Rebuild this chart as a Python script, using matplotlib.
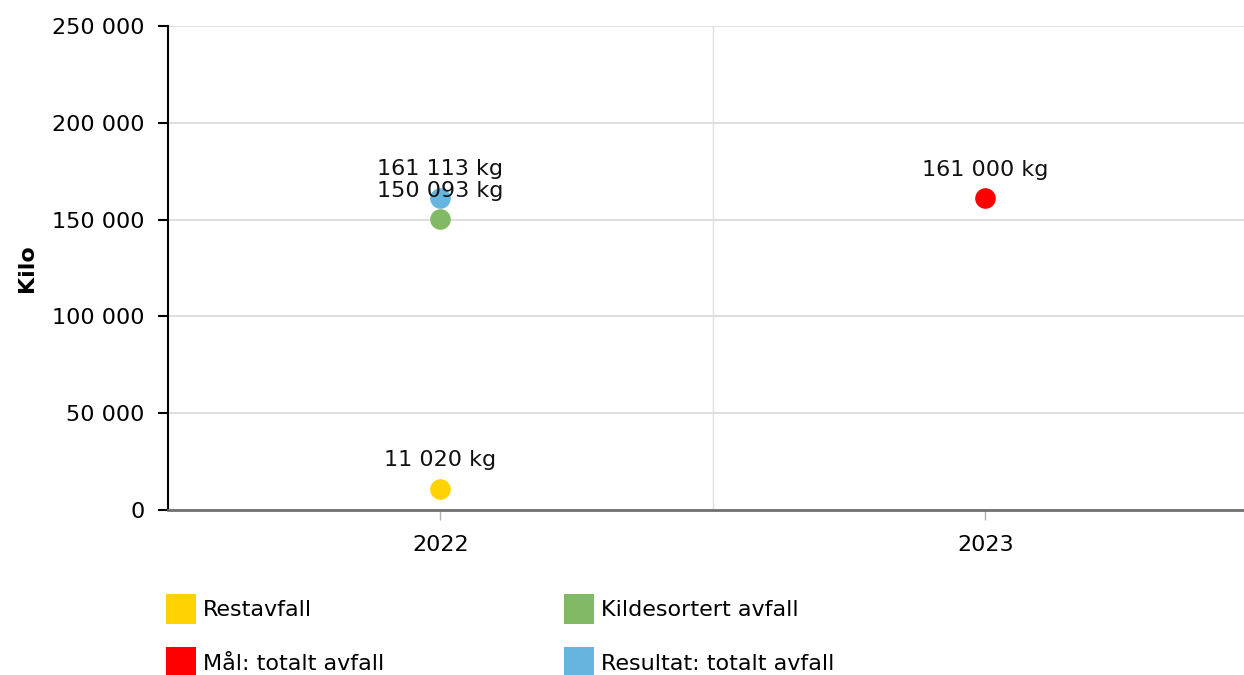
import matplotlib.pyplot as plt
from matplotlib.patches import Patch

# Data
years = ['2022', '2023']
series_names = ['Restavfall', 'Kildesortert avfall', 'Mål: totalt avfall', 'Resultat: totalt avfall']
series_colors = ['#FFD200', '#82B964', '#FF0000', '#66B5DE']
series_x = [0, 0, 1, 0]  # index into years
series_values = [11020, 150093, 161000, 161113]

yticks = [0, 50000, 100000, 150000, 200000, 250000]


def fmt(v):
    return f'{v:,}'.replace(',', ' ')


plt.rcParams['font.family'] = ['DejaVu Sans']

fig = plt.figure(figsize=(12.44, 6.75), dpi=100)
ax = fig.add_axes([168 / 1244, (675 - 510) / 675, (1244 - 168) / 1244, (510 - 26) / 675])

for name, color, xi, v in zip(series_names, series_colors, series_x, series_values):
    ax.scatter(xi, v, s=220, color=color, zorder=3, linewidths=0)
    ax.annotate(f'{fmt(v)} kg', (xi, v), xytext=(0, 13.5), textcoords='offset points',
                ha='center', va='bottom', fontsize=16, color='#111111', zorder=4)

ax.set_xlim(-0.5, -0.5 + 1076 / 545)
ax.set_ylim(0, 250000)
ax.set_xticks(range(len(years)))
ax.set_xticklabels(years, fontsize=16)
ax.set_yticks(yticks)
ax.set_yticklabels([fmt(t) for t in yticks], fontsize=16)
ax.set_ylabel('Kilo', fontsize=16, fontweight='bold', labelpad=11)

ax.grid(axis='y', color='#d9d9d9', linewidth=1.2)
ax.set_axisbelow(True)
ax.axvline(0.5, color='#e0e0e0', linewidth=1, zorder=0)

for s in ['top', 'right']:
    ax.spines[s].set_visible(False)
ax.spines['left'].set_color('black')
ax.spines['left'].set_linewidth(1.5)
ax.spines['bottom'].set_color('#707070')
ax.spines['bottom'].set_linewidth(2)
ax.tick_params(axis='y', length=7, width=1.5, color='black', pad=10)
ax.tick_params(axis='x', length=7, width=1, color='#b0b0b0', pad=11)

order = [0, 2, 1, 3]
handles = [Patch(facecolor=series_colors[i], edgecolor='none') for i in order]
labels = [series_names[i] for i in order]
fig.legend(handles, labels, loc='upper left', bbox_to_anchor=(166 / 1244, 1 - 594 / 675),
           ncol=2, frameon=False, fontsize=16, handlelength=1.35, handleheight=1.7,
           handletextpad=0.3, columnspacing=8.1, labelspacing=1.05, borderpad=0,
           borderaxespad=0)

fig.savefig('out.png', dpi=100)
